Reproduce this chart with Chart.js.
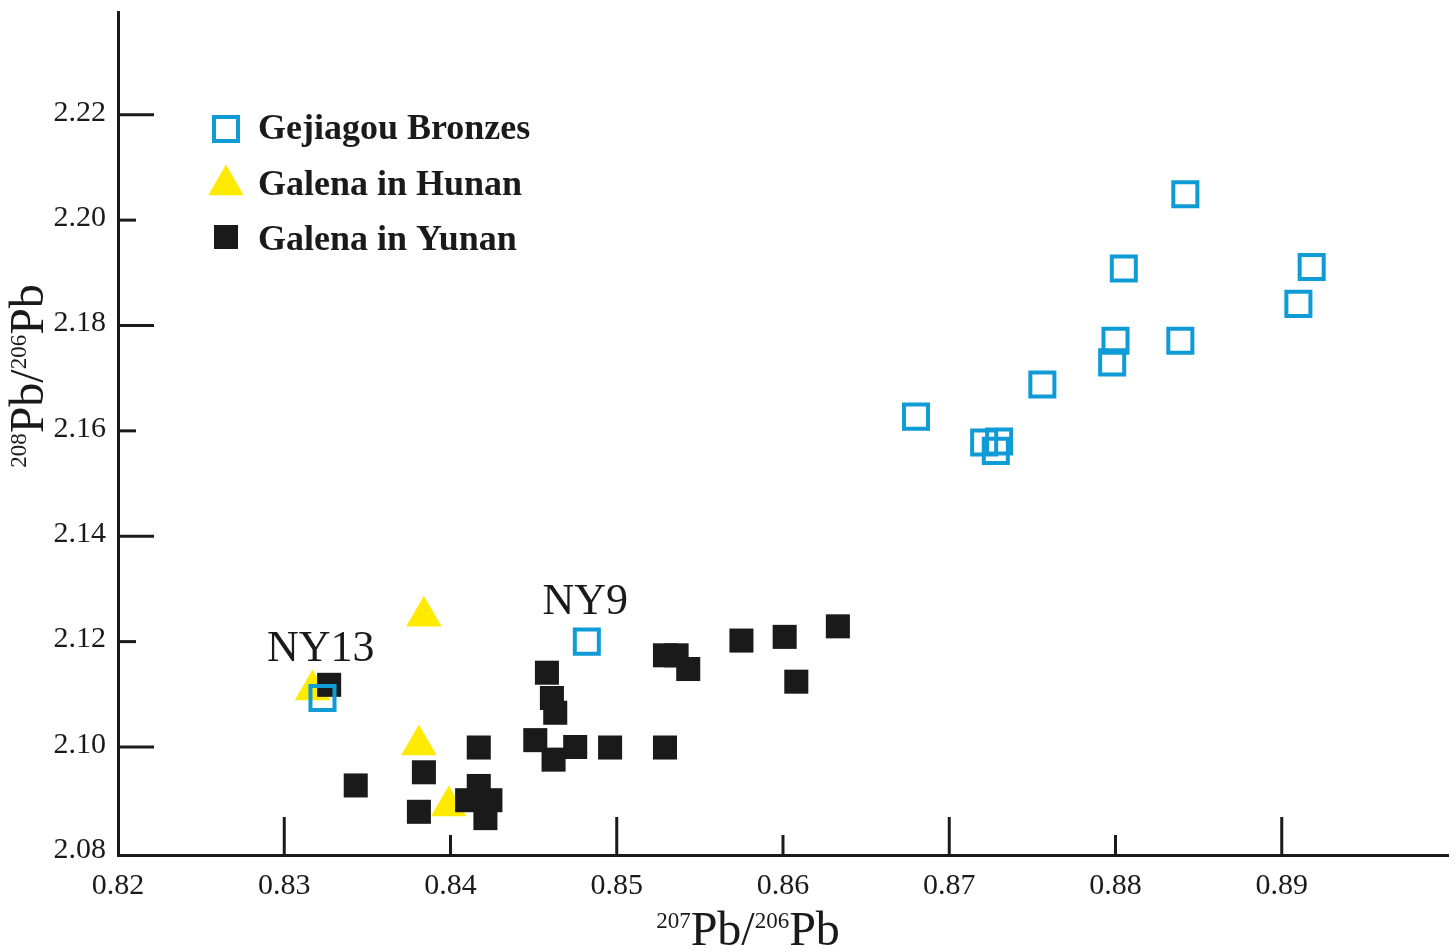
<!DOCTYPE html>
<html>
<head>
<meta charset="utf-8">
<script src="https://cdn.jsdelivr.net/npm/chart.js@4.4.1/dist/chart.umd.min.js"></script>
<style>
  html, body { margin: 0; padding: 0; background: #fff; }
  #wrap { width: 1456px; height: 952px; }
</style>
</head>
<body>
<div id="wrap"><canvas id="leadChart" width="1456" height="952"></canvas></div>
<script>
// series names (legend order)
const seriesNames = ['Gejiagou Bronzes', 'Galena in Hunan', 'Galena in Yunan'];

// 207Pb/206Pb (x) and 208Pb/206Pb (y)
const bronzeX = [0.8842, 0.8805, 0.8918, 0.8910, 0.8800, 0.8839, 0.8798, 0.8756, 0.8680, 0.8721, 0.8730, 0.8728, 0.8482, 0.8323];
const bronzeY = [2.2049, 2.1908, 2.1911, 2.1841, 2.1771, 2.1771, 2.1730, 2.1688, 2.1627, 2.1578, 2.1580, 2.1562, 2.1200, 2.1093];

const hunanX = [0.8384, 0.8381, 0.8317, 0.8399];
const hunanY = [2.1248, 2.1004, 2.1108, 2.0888];

const yunanX = [0.8327, 0.8343, 0.8384, 0.8381, 0.8417, 0.8417, 0.8410, 0.8424, 0.8421, 0.8458, 0.8461, 0.8463,
                0.8451, 0.8475, 0.8462, 0.8496, 0.8529, 0.8529, 0.8536, 0.8543, 0.8575, 0.8601, 0.8633, 0.8608];
const yunanY = [2.1118, 2.0927, 2.0952, 2.0877, 2.0999, 2.0926, 2.0899, 2.0899, 2.0865, 2.1141, 2.1093, 2.1065,
                2.1013, 2.1000, 2.0976, 2.0999, 2.0999, 2.1174, 2.1174, 2.1148, 2.1202, 2.1209, 2.1229, 2.1124];

const xTicks = [0.82, 0.83, 0.84, 0.85, 0.86, 0.87, 0.88, 0.89];
const yTicks = [2.08, 2.10, 2.12, 2.14, 2.16, 2.18, 2.20, 2.22];

// sample labels placed at data coordinates (text baseline)
const noteLabels = ['NY13', 'NY9'];
const noteX = [0.8322, 0.8481];
const noteY = [2.1164, 2.1252];

const SERIF = "'Liberation Serif', 'Times New Roman', serif";
const BLUE = '#0f9bd6';
const YELLOW = '#ffea00';
const BLACK = '#1b1a1a';

const toPoints = (xs, ys) => xs.map((v, i) => ({ x: v, y: ys[i] }));

// tick marks that point into the plot, alternating long / short
const innerTicks = {
  id: 'innerTicks',
  afterDraw(chart) {
    const { ctx, chartArea, scales } = chart;
    ctx.save();
    ctx.strokeStyle = BLACK;
    ctx.lineWidth = 3;
    yTicks.forEach((v, i) => {
      if (i === 0) return;
      const py = scales.y.getPixelForValue(v);
      const len = i % 2 ? 36 : 18;
      ctx.beginPath();
      ctx.moveTo(chartArea.left, py);
      ctx.lineTo(chartArea.left + len, py);
      ctx.stroke();
    });
    xTicks.forEach((v, i) => {
      if (i === 0) return;
      const px = scales.x.getPixelForValue(v);
      const len = i % 2 ? 38 : 20;
      ctx.beginPath();
      ctx.moveTo(px, chartArea.bottom);
      ctx.lineTo(px, chartArea.bottom - len);
      ctx.stroke();
    });
    ctx.restore();
  }
};

// draws "207Pb/206Pb" style text centred on (0,0), baseline at 0
function drawIsotopeText(ctx, parts) {
  const big = '48px ' + SERIF, small = '23px ' + SERIF;
  let total = 0;
  parts.forEach(p => { ctx.font = p.sup ? small : big; total += ctx.measureText(p.t).width; });
  let cx = -total / 2;
  ctx.textAlign = 'left';
  ctx.textBaseline = 'alphabetic';
  parts.forEach(p => {
    ctx.font = p.sup ? small : big;
    ctx.fillText(p.t, cx, p.sup ? -17 : 0);
    cx += ctx.measureText(p.t).width;
  });
}

const extras = {
  id: 'extras',
  afterDraw(chart) {
    const { ctx, scales } = chart;
    ctx.save();
    ctx.fillStyle = BLACK;

    // axis titles
    ctx.save();
    ctx.translate(748, 945);
    drawIsotopeText(ctx, [{ t: '207', sup: true }, { t: 'Pb' }, { t: '/' }, { t: '206', sup: true }, { t: 'Pb' }]);
    ctx.restore();
    ctx.save();
    ctx.translate(43, 376);
    ctx.rotate(-Math.PI / 2);
    drawIsotopeText(ctx, [{ t: '208', sup: true }, { t: 'Pb' }, { t: '/' }, { t: '206', sup: true }, { t: 'Pb' }]);
    ctx.restore();

    // sample notes
    ctx.font = '44px ' + SERIF;
    ctx.textAlign = 'center';
    ctx.textBaseline = 'alphabetic';
    noteLabels.forEach((s, i) => {
      ctx.fillText(s, scales.x.getPixelForValue(noteX[i]), scales.y.getPixelForValue(noteY[i]));
    });

    // legend
    const lx = 226, tx = 258;
    ctx.strokeStyle = BLUE;
    ctx.lineWidth = 4;
    ctx.strokeRect(lx - 12, 129 - 12, 24, 24);
    ctx.fillStyle = YELLOW;
    const r = 20.5, cy = 185;
    ctx.beginPath();
    ctx.moveTo(lx, cy - r);
    ctx.lineTo(lx + r * Math.sin(2 * Math.PI / 3), cy + r / 2);
    ctx.lineTo(lx - r * Math.sin(2 * Math.PI / 3), cy + r / 2);
    ctx.closePath();
    ctx.fill();
    ctx.fillStyle = BLACK;
    ctx.fillRect(lx - 12, 237 - 12, 24, 24);

    ctx.font = 'bold 36px ' + SERIF;
    ctx.textAlign = 'left';
    ctx.fillText(seriesNames[0], tx, 139);
    ctx.fillText(seriesNames[1], tx, 195);
    ctx.fillText(seriesNames[2], tx, 250);
    ctx.restore();
  }
};

new Chart(document.getElementById('leadChart'), {
  type: 'scatter',
  data: {
    datasets: [
      {
        label: seriesNames[0],
        data: toPoints(bronzeX, bronzeY),
        pointStyle: 'rect',
        pointRadius: 17,
        borderColor: BLUE,
        borderWidth: 4,
        backgroundColor: 'rgba(0,0,0,0)',
        order: 1
      },
      {
        label: seriesNames[1],
        data: toPoints(hunanX, hunanY),
        pointStyle: 'triangle',
        pointRadius: 20.5,
        borderWidth: 0,
        backgroundColor: YELLOW,
        order: 3
      },
      {
        label: seriesNames[2],
        data: toPoints(yunanX, yunanY),
        pointStyle: 'rect',
        pointRadius: 17,
        borderWidth: 0,
        backgroundColor: BLACK,
        order: 2
      }
    ]
  },
  options: {
    responsive: false,
    animation: false,
    events: [],
    layout: { autoPadding: false, padding: { left: 0, right: 8, top: 12, bottom: 0 } },
    plugins: { legend: { display: false }, tooltip: { enabled: false } },
    scales: {
      x: {
        type: 'linear',
        min: 0.82,
        max: 0.90,
        afterBuildTicks: s => { s.ticks = xTicks.map(v => ({ value: v })); },
        afterFit: s => { s.height = 97; s.paddingLeft = 0; s.paddingRight = 0; },
        grid: { drawOnChartArea: false, drawTicks: false },
        border: { color: BLACK, width: 3 },
        ticks: {
          font: { family: SERIF, size: 30 },
          color: BLACK,
          padding: 13,
          maxRotation: 0,
          autoSkip: false,
          callback: v => v.toFixed(2)
        }
      },
      y: {
        type: 'linear',
        min: 2.0795,
        max: 2.2395,
        afterBuildTicks: s => { s.ticks = yTicks.map(v => ({ value: v })); },
        afterFit: s => { s.width = 118; s.paddingTop = 0; s.paddingBottom = 0; },
        grid: { drawOnChartArea: false, drawTicks: false },
        border: { color: BLACK, width: 3 },
        ticks: {
          font: { family: SERIF, size: 30 },
          color: BLACK,
          padding: 12,
          labelOffset: -2,
          autoSkip: false,
          callback: v => v.toFixed(2)
        }
      }
    }
  },
  plugins: [innerTicks, extras]
});
</script>
</body>
</html>
